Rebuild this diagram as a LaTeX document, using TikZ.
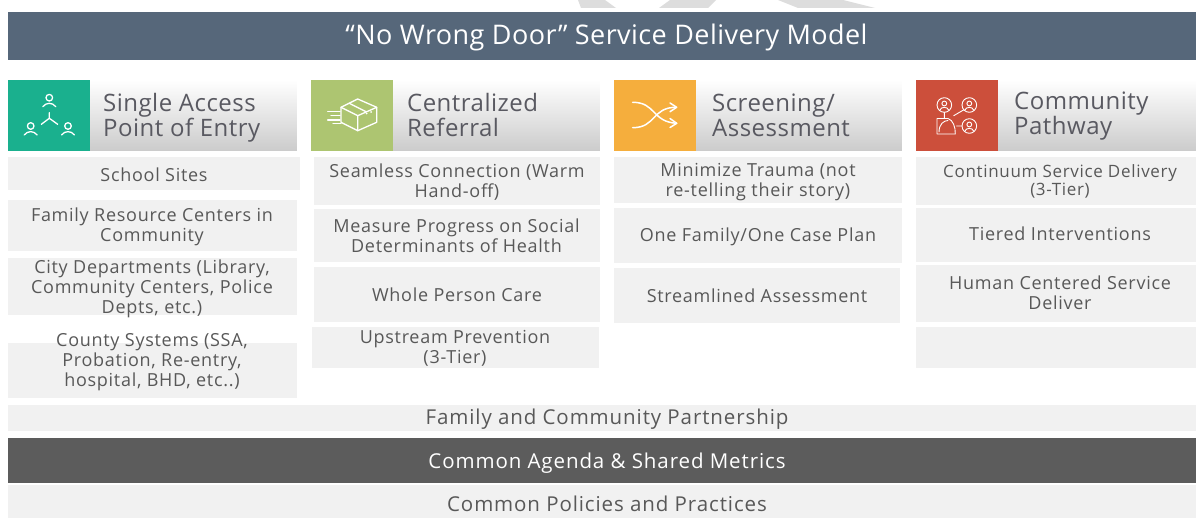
\documentclass[tikz,border=0pt]{standalone}
\usepackage{fontspec}
\setmainfont{Open Sans}[LetterSpace=4]
\newfontfamily\titlefont{Open Sans}[LetterSpace=1.6]
\newfontfamily\headfont{Open Sans}[LetterSpace=2]
\newfontfamily\barfont{Open Sans}[LetterSpace=4.4]
\definecolor{titlebg}{HTML}{56677A}
\definecolor{lightbg}{HTML}{F1F1F1}
\definecolor{darkbg}{HTML}{5C5C5C}
\definecolor{txt}{HTML}{585858}
\definecolor{headtxt}{HTML}{595961}
\definecolor{cgreen}{HTML}{1AB08E}
\definecolor{colive}{HTML}{ADC571}
\definecolor{corange}{HTML}{F5AE3D}
\definecolor{cred}{HTML}{CC4F3B}
\definecolor{wm}{HTML}{DDDDDD}
\definecolor{icn}{HTML}{FFFFFF}
\tikzset{x=1pt,y=-1pt,
 box/.style={fill=lightbg,draw=none},
 itemtxt/.style={align=center,font=\fontsize{18}{20}\selectfont,text=txt,inner sep=0pt},
 bartxt/.style={align=center,font=\barfont\fontsize{20.5}{22}\selectfont,text=txt,inner sep=0pt},
 headlbl/.style={anchor=west,align=left,font=\headfont\fontsize{24}{25}\selectfont,text=headtxt,inner sep=0pt},
 ic/.style={draw=icn,line width=1.3pt,line cap=round,line join=round,fill=none},
 icthin/.style={ic,line width=.9pt},
}
\newcommand{\headbox}[3]{% x1 x2 color
 \foreach \k in {0,...,70}{
  \pgfmathsetmacro{\pc}{20*\k/70}
  \fill[black!\pc!white] (#1,{80+\k}) rectangle (#2,{81.3+\k});
 }
 \fill[#3] (#1,80) rectangle ({#1+82},151);
}
\newcommand{\person}[2]{%
 \draw[ic] (#1,#2) circle (3.3);
 \draw[ic] ({#1-6.5},{#2+9}) .. controls ({#1-3},{#2+4.5}) and ({#1+3},{#2+4.5}) .. ({#1+6.5},{#2+9});
}
\newcommand{\rperson}[2]{%
 \draw[icthin] (#1,#2) circle (7.3);
 \draw[icthin] (#1,{#2-1.5}) circle (2.4);
 \draw[icthin] ({#1-4.3},{#2+5}) .. controls ({#1-3.5},{#2+1.5}) and ({#1+3.5},{#2+1.5}) .. ({#1+4.3},{#2+5});
}
\begin{document}
\begin{tikzpicture}
\useasboundingbox (0,0) rectangle (1196,518);
\fill[white] (0,0) rectangle (1196,518);
% watermark
\fill[wm] (578,0) -- (605,0) -- (616,8) -- (581,8) -- cycle;
\fill[wm] (670,0) -- (716,0) -- (708,8) -- (659,8) -- cycle;
\fill[wm] (778,0) -- (843,0) -- (875,8) -- (798,8) -- cycle;
% title
\fill[titlebg] (8,12) rectangle (1196,60);
\node[inner sep=0pt,text=white,font=\titlefont\fontsize{27}{30}\selectfont] (title) at (606.5,37.5) {“No Wrong Door” Service Delivery Model};
% headers
\headbox{8}{297}{cgreen}
\headbox{311}{600}{colive}
\headbox{614}{902}{corange}
\headbox{916}{1196}{cred}
\node[headlbl,font=\headfont\fontsize{24}{23}\selectfont] (h1) at (103,117.5) {Single Access\\Point of Entry};
\node[headlbl] (h2) at (407,115) {Centralized\\Referral};
\node[headlbl] (h3) at (712,115.5) {Screening/\\Assessment};
\node[headlbl] (h4) at (1014,116) {Community\\Pathway};
% icon 1
\person{49.3}{97.7}
\person{30.7}{126}
\person{68}{126}
\draw[ic] (49.3,112.7) -- (49.3,118.3) (41.3,124.3) -- (49.3,118.3) -- (57.7,124.3);
% icon 2
\draw[ic] (357.7,99) -- (376.7,107.3) -- (376.7,122.3) -- (357.7,130.7) -- (341,122.3) -- (341,107.3) -- cycle;
\draw[ic] (341,107.3) -- (357.7,115.7) -- (376.7,107.3) (357.7,115.7) -- (357.7,130.7);
\draw[ic] (349.3,103.3) -- (366,111.7);
\draw[ic] (327.7,111.7) -- (340,111.7) (331,115.7) -- (340,115.7) (327.7,120) -- (340,120) (333,123.5) -- (341,123.5);
\fill[icn] (366.7,113.5) circle (1) (371,112) circle (1);
% icon 3
\draw[ic,line width=1.5pt] (632.7,102.3) .. controls (656,102.3) and (652,122) .. (676.7,123.3);
\draw[ic,line width=1.5pt] (632.7,127.7) .. controls (656,127.7) and (652,107.3) .. (676,107.3);
\draw[ic,line width=1.5pt] (670,103) -- (676.7,107.3) -- (670,111.7);
\draw[ic,line width=1.5pt] (670,118.5) -- (676.7,123.3) -- (670,127.5);
% icon 4
\rperson{944.3}{105}
\rperson{969.3}{105}
\rperson{969.3}{126}
\draw[icthin] (937,118.5) -- (948,118.5) .. controls (953,120) and (955.5,127) .. (955.3,134) -- (937,134) -- cycle;
\draw[icthin] (939,132) .. controls (939,124) and (944,120.5) .. (948,120.5);
\draw[icthin] (944.3,112.3) -- (944.3,118.5) (953.7,115.7) -- (964,109.7) (956.5,126) -- (962,126);
% items col1
\fill[box] (8,157) rectangle (300,190);
\node[itemtxt] (a1) at (154,174.5) {School Sites};
\fill[box] (8,200) rectangle (297,251);
\node[itemtxt] (a2) at (152,227) {Family Resource Centers in\\Community};
\fill[box] (8,258) rectangle (297,315);
\node[itemtxt] (a3) at (152,288.5) {City Departments (Library,\\Community Centers, Police\\Depts, etc.)};
\fill[box] (8,343) rectangle (297,398);
\node[itemtxt] (a4) at (152,362.5) {County Systems (SSA,\\Probation, Re-entry,\\hospital, BHD, etc..)};
% col2
\fill[box] (314,157) rectangle (600,205);
\node[itemtxt] (b1) at (457,182) {Seamless Connection (Warm\\Hand-off)};
\fill[box] (314,209) rectangle (600,262);
\node[itemtxt] (b2) at (456.5,235.5) {Measure Progress on Social\\Determinants of Health};
\fill[box] (314,267) rectangle (600,322);
\node[itemtxt] (b3) at (457,294.5) {Whole Person Care};
\fill[box] (312,327) rectangle (599,368);
\node[itemtxt] (b4) at (455,348) {Upstream Prevention\\(3-Tier)};
% col3
\fill[box] (614,157) rectangle (902,203);
\node[itemtxt] (c1) at (758,182) {Minimize Trauma (not\\re-telling their story)};
\fill[box] (614,208) rectangle (902,263);
\node[itemtxt] (c2) at (758,237) {One Family/One Case Plan};
\fill[box] (614,268) rectangle (900,323);
\node[itemtxt] (c3) at (757,295.5) {Streamlined Assessment};
% col4
\fill[box] (916,157) rectangle (1196,205);
\node[itemtxt,font=\fontsize{17}{18}\selectfont] (d1) at (1060,181) {Continuum Service Delivery\\(3-Tier)};
\fill[box] (916,208) rectangle (1196,262);
\node[itemtxt] (d2) at (1060,234) {Tiered Interventions};
\fill[box] (916,265) rectangle (1196,322);
\node[itemtxt] (d3) at (1060,293) {Human Centered Service\\Deliver};
\fill[box] (916,327) rectangle (1196,368);
% bars
\fill[box] (8,405) rectangle (1196,431);
\node[bartxt] (e1) at (607,419.5) {Family and Community Partnership};
\fill[darkbg] (8,438) rectangle (1196,483);
\node[bartxt,text=white] (e2) at (607,463) {Common Agenda \& Shared Metrics};
\fill[box] (8,485) rectangle (1196,518);
\node[bartxt] (e3) at (607,503.5) {Common Policies and Practices};
\end{tikzpicture}
\end{document}
